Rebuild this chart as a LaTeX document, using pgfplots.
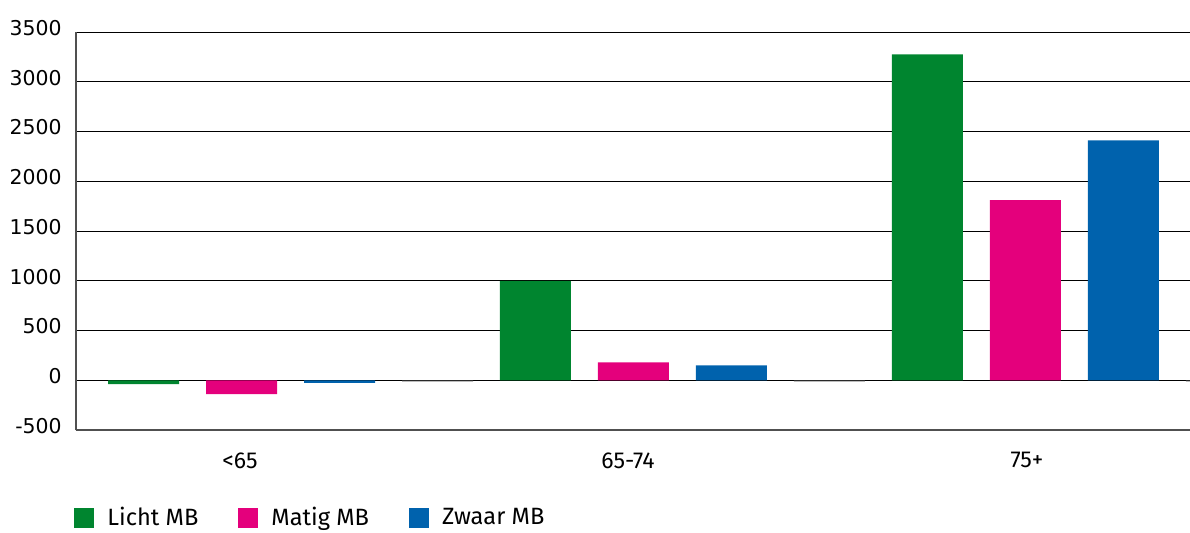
\documentclass[border=0pt]{standalone}
\usepackage{fontspec}
\setmainfont{Fira Sans}
\newfontfamily\dejavu{DejaVu Sans}
\usepackage{pgfplots}
\pgfplotsset{compat=1.18}
\definecolor{licht}{RGB}{0,133,47}
\definecolor{matig}{RGB}{228,0,124}
\definecolor{zwaar}{RGB}{0,98,173}
\definecolor{overig}{RGB}{64,64,64}
\definecolor{aslijn}{RGB}{80,80,80}

\begin{document}
\begin{tikzpicture}
\useasboundingbox (0,0) rectangle (595pt,266pt);
\begin{axis}[
  at={(38pt,51pt)}, anchor=south west,
  scale only axis, width=557pt, height=199pt,
  xmin=-0.689, xmax=10.679,
  ymin=-500, ymax=3500,
  ytick={-500,0,...,3500},
  xtick={0.985,4.944,9.015},
  xticklabels={<65,65-74,75+},
  axis x line=bottom, axis y line=left,
  axis line style={-, draw=aslijn, line width=1pt},
  ymajorgrids, grid style={black, line width=0.5pt},
  major tick length=0pt,
  /pgf/number format/assume math mode=true,
  /pgf/number format/1000 sep={},
  yticklabel style={font=\dejavu\fontsize{10.2}{12}\selectfont, anchor=east, inner sep=0pt, xshift=-7pt, yshift=2pt},
  xticklabel style={font=\fontsize{11.5}{13}\selectfont, anchor=north, inner sep=0pt, yshift=-11pt},
  legend columns=3,
  legend cell align=left,
  legend style={at={(-0.0018,-0.2211)}, anchor=west, draw=none, fill=none,
    inner sep=0pt, font=\fontsize{11.8}{14}\selectfont,
    nodes={inner sep=0pt},
    /tikz/every odd column/.append style={column sep=6.5pt},
    /tikz/every even column/.append style={column sep=20pt}},
  legend image code/.code={\fill[#1] (0pt,-5pt) rectangle (10pt,5pt);},
]
\addplot[ybar, bar width=35.5pt, bar shift=0pt, fill=licht, draw=none]
  coordinates {(0,-40) (4,1000) (8,3275)};
\addlegendentry{Licht MB}
\addplot[ybar, bar width=35.5pt, bar shift=0pt, fill=matig, draw=none]
  coordinates {(1,-140) (5,180) (9,1810)};
\addlegendentry{Matig MB}
\addplot[ybar, bar width=35.5pt, bar shift=0pt, fill=zwaar, draw=none]
  coordinates {(2,-27) (6,150) (10,2410)};
\addlegendentry{Zwaar MB}
\addplot[ybar, bar width=35.5pt, bar shift=0pt, fill=overig, draw=none, forget plot]
  coordinates {(3,-10) (7,-10) (11,-10)};
\end{axis}
\end{tikzpicture}
\end{document}
